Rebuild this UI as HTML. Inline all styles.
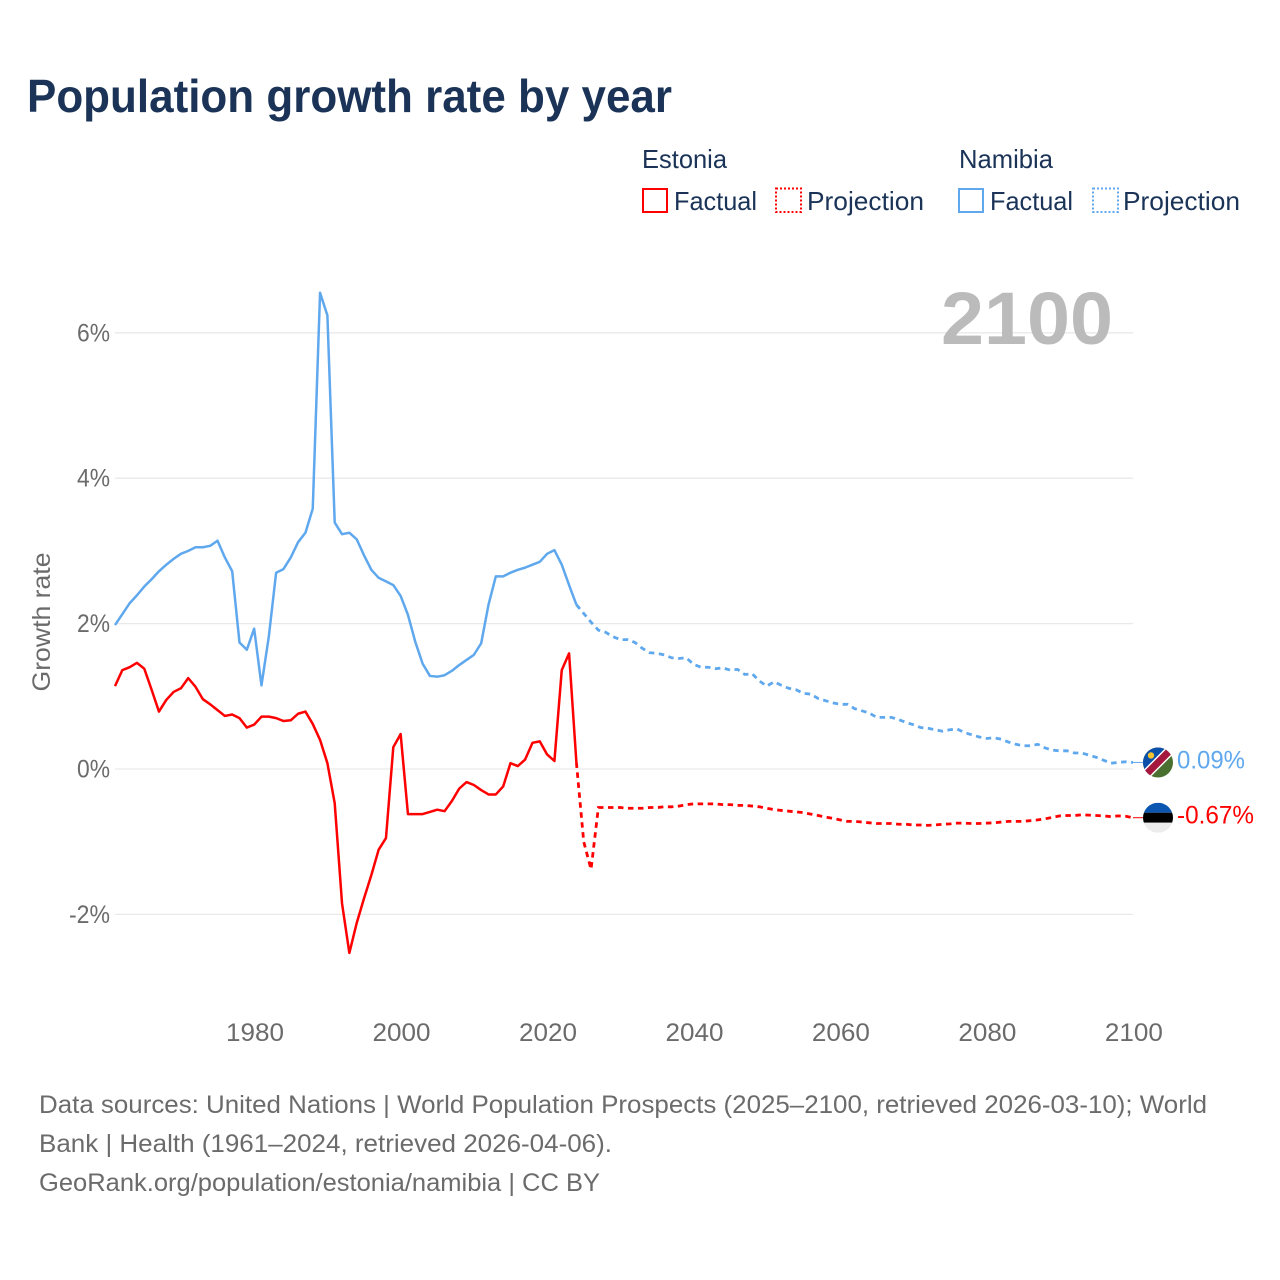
<!DOCTYPE html>
<html lang="en">
<head>
<meta charset="utf-8">
<title>Population growth rate by year</title>
<style>
html,body{margin:0;padding:0;background:#fff;}
svg{display:block;font-family:"Liberation Sans",sans-serif;}
</style>
</head>
<body>
<svg id="chart" xmlns="http://www.w3.org/2000/svg" width="1280" height="1280" viewBox="0 0 1280 1280">
<defs>
<clipPath id="flag-clip-n"><circle cx="0" cy="0" r="15"></circle></clipPath>
<clipPath id="flag-clip-e"><circle cx="0" cy="0" r="15"></circle></clipPath>
</defs>
<rect width="1280" height="1280" fill="#ffffff"></rect>
<text x="27" y="112" font-size="46" font-weight="700" fill="#1a3357" textLength="645" lengthAdjust="spacingAndGlyphs">Population growth rate by year</text>

<g font-size="26" fill="#1a3357">
<text x="642" y="168" textLength="85" lengthAdjust="spacingAndGlyphs">Estonia</text>
<text x="959" y="168" textLength="94" lengthAdjust="spacingAndGlyphs">Namibia</text>
<rect x="643" y="189" width="24" height="23" fill="none" stroke="#ff0000" stroke-width="2"></rect>
<text x="674" y="210" textLength="83" lengthAdjust="spacingAndGlyphs">Factual</text>
<rect x="776" y="188.5" width="25" height="23.5" fill="none" stroke="#ff0000" stroke-width="2" stroke-dasharray="2 2"></rect>
<text x="807" y="210" textLength="117" lengthAdjust="spacingAndGlyphs">Projection</text>
<rect x="959" y="189" width="24" height="23" fill="none" stroke="#5fa8ee" stroke-width="2"></rect>
<text x="990" y="210" textLength="83" lengthAdjust="spacingAndGlyphs">Factual</text>
<rect x="1093" y="188.5" width="25" height="23.5" fill="none" stroke="#5fa8ee" stroke-width="2" stroke-dasharray="2 2"></rect>
<text x="1123" y="210" textLength="117" lengthAdjust="spacingAndGlyphs">Projection</text>
</g>

<g id="grid"></g>
<g id="yticks"></g>
<g id="xticks"></g>
<text x="0" y="0" transform="translate(50,622) rotate(-90)" text-anchor="middle" font-size="25" fill="#6b6b6b" textLength="139" lengthAdjust="spacingAndGlyphs">Growth rate</text>
<text x="941" y="344" font-size="74" font-weight="700" fill="#bbbbbb" textLength="172" lengthAdjust="spacingAndGlyphs">2100</text>

<g id="series"></g>

<g id="flag-namibia">
<g clip-path="url(#flag-clip-n)">
<rect x="-15" y="-15" width="30" height="30" fill="#4a7030"></rect>
<polygon points="-15,-15 15,-15 -15,15" fill="#0a4fa8"></polygon>
<polygon points="-15,8 8,-15 15,-15 15,-8 -8,15 -15,15" fill="#ffffff"></polygon>
<polygon points="-15,10 10,-15 15,-15 15,-10 -10,15 -15,15" fill="#a5173d"></polygon>
<circle cx="-7" cy="-7" r="3.2" fill="#f4c430"></circle>
</g>
</g>
<g id="flag-estonia">
<g clip-path="url(#flag-clip-e)">
<rect x="-15" y="-15" width="30" height="10" fill="#0a56b0"></rect>
<rect x="-15" y="-5" width="30" height="10" fill="#000000"></rect>
<rect x="-15" y="5" width="30" height="10" fill="#ececec"></rect>
</g>
</g>
<g id="endlabels"></g>

<g font-size="25" fill="#6b6b6b">
<text x="39" y="1113" textLength="1168" lengthAdjust="spacingAndGlyphs">Data sources: United Nations | World Population Prospects (2025–2100, retrieved 2026-03-10); World</text>
<text x="39" y="1152" textLength="573" lengthAdjust="spacingAndGlyphs">Bank | Health (1961–2024, retrieved 2026-04-06).</text>
<text x="39" y="1191" textLength="561" lengthAdjust="spacingAndGlyphs">GeoRank.org/population/estonia/namibia | CC BY</text>
</g>
</svg>
<script>
var factualStartYear = 1961;
var projectionStartYear = 2024;
var namibiaFactual = [1.98,2.13,2.28,2.39,2.51,2.61,2.72,2.81,2.89,2.96,3.00,3.05,3.05,3.07,3.14,2.91,2.72,1.74,1.64,1.93,1.15,1.82,2.70,2.75,2.91,3.12,3.25,3.58,6.55,6.24,3.39,3.23,3.25,3.16,2.94,2.74,2.63,2.58,2.53,2.38,2.12,1.75,1.45,1.28,1.27,1.29,1.35,1.43,1.50,1.57,1.73,2.26,2.65,2.65,2.70,2.74,2.77,2.81,2.85,2.96,3.01,2.81,2.53,2.26];
var namibiaProjection = [2.26,2.14,2.02,1.91,1.88,1.82,1.78,1.78,1.74,1.66,1.60,1.59,1.57,1.53,1.52,1.53,1.44,1.40,1.40,1.38,1.39,1.36,1.37,1.30,1.31,1.21,1.14,1.20,1.15,1.11,1.09,1.04,1.03,0.97,0.94,0.91,0.89,0.89,0.83,0.80,0.77,0.71,0.71,0.71,0.68,0.64,0.61,0.57,0.56,0.54,0.52,0.54,0.55,0.50,0.47,0.44,0.42,0.43,0.41,0.37,0.34,0.32,0.32,0.34,0.29,0.26,0.25,0.25,0.22,0.22,0.19,0.16,0.12,0.08,0.09,0.10,0.09];
var estoniaFactual = [1.14,1.36,1.40,1.46,1.38,1.09,0.79,0.95,1.06,1.11,1.25,1.13,0.96,0.89,0.81,0.73,0.75,0.70,0.57,0.61,0.72,0.72,0.70,0.66,0.67,0.76,0.79,0.62,0.40,0.08,-0.47,-1.85,-2.53,-2.12,-1.78,-1.46,-1.11,-0.95,0.30,0.48,-0.62,-0.62,-0.62,-0.59,-0.56,-0.58,-0.44,-0.27,-0.18,-0.22,-0.29,-0.35,-0.35,-0.24,0.08,0.04,0.13,0.36,0.38,0.20,0.11,1.36,1.59,0.09];
var estoniaProjection = [0.09,-1.00,-1.38,-0.53,-0.53,-0.53,-0.53,-0.54,-0.54,-0.54,-0.53,-0.53,-0.52,-0.52,-0.51,-0.49,-0.48,-0.48,-0.48,-0.48,-0.49,-0.49,-0.50,-0.50,-0.51,-0.52,-0.54,-0.56,-0.57,-0.58,-0.59,-0.60,-0.62,-0.64,-0.66,-0.68,-0.70,-0.72,-0.72,-0.73,-0.74,-0.75,-0.75,-0.75,-0.76,-0.76,-0.77,-0.77,-0.775,-0.77,-0.76,-0.755,-0.745,-0.745,-0.75,-0.75,-0.745,-0.74,-0.73,-0.72,-0.72,-0.72,-0.71,-0.70,-0.685,-0.665,-0.645,-0.64,-0.64,-0.63,-0.635,-0.64,-0.645,-0.655,-0.645,-0.65,-0.67];
var yTickValues = [-2,0,2,4,6];
var yTickLabels = ["-2%","0%","2%","4%","6%"];
var xTickYears = [1980,2000,2020,2040,2060,2080,2100];
var xTickLabels = ["1980","2000","2020","2040","2060","2080","2100"];
var endValueNamibia = "0.09%";
var endValueEstonia = "-0.67%";

var NS = "http://www.w3.org/2000/svg";
function xScale(year){ return 115 + (year - 1961) * (1018 / 139); }
function yScale(v){ return 769 - v * 72.7; }
function make(tag, parent, attrs){
  var el = document.createElementNS(NS, tag);
  for (var k in attrs) el.setAttribute(k, attrs[k]);
  parent.appendChild(el);
  return el;
}
function pathFrom(values, startYear){
  var d = "";
  for (var i = 0; i < values.length; i++){
    d += (i ? "L" : "M") + xScale(startYear + i).toFixed(2) + " " + yScale(values[i]).toFixed(2);
  }
  return d;
}

var grid = document.getElementById("grid");
var yticks = document.getElementById("yticks");
yTickValues.forEach(function(v, i){
  var line = make("line", grid, {x1: xScale(1961), x2: xScale(2100), y1: yScale(v), y2: yScale(v), stroke: "#e9e9e9", "stroke-width": 1.3});
  
  
  var t = make("text", yticks, {x: 110, y: yScale(v) + 8.5, "text-anchor": "end", "font-size": 25, fill: "#6b6b6b", textLength: v < 0 ? 41 : 33, lengthAdjust: "spacingAndGlyphs"});
  t.textContent = yTickLabels[i];
  
  
});

var xticks = document.getElementById("xticks");
xTickYears.forEach(function(year, i){
  var t = make("text", xticks, {x: xScale(year) + 0.9, y: 1041, "text-anchor": "middle", "font-size": 25, fill: "#6b6b6b", textLength: 58, lengthAdjust: "spacingAndGlyphs"});
  t.textContent = xTickLabels[i];
  
  
});

var series = document.getElementById("series");
var nf = make("path", series, {d: pathFrom(namibiaFactual, factualStartYear), fill: "none", stroke: "#5fa8ee", "stroke-width": 2.5, "stroke-linejoin": "round"});


var np = make("path", series, {d: pathFrom(namibiaProjection, projectionStartYear), fill: "none", stroke: "#5fa8ee", "stroke-width": 2.8, "stroke-dasharray": "5.5 4.5"});


var ef = make("path", series, {d: pathFrom(estoniaFactual, factualStartYear), fill: "none", stroke: "#ff0000", "stroke-width": 2.5, "stroke-linejoin": "round"});


var ep = make("path", series, {d: pathFrom(estoniaProjection, projectionStartYear), fill: "none", stroke: "#ff0000", "stroke-width": 2.8, "stroke-dasharray": "5.5 4.5"});



var lastN = namibiaProjection[namibiaProjection.length - 1];
var lastE = estoniaProjection[estoniaProjection.length - 1];
var lastYear = projectionStartYear + namibiaProjection.length - 1;
var endX = xScale(lastYear);
var cn = make("line", series, {x1: endX, x2: endX + 10, y1: yScale(lastN), y2: yScale(lastN), stroke: "#5fa8ee", "stroke-width": 1});


var ce = make("line", series, {x1: endX, x2: endX + 10, y1: yScale(lastE), y2: yScale(lastE), stroke: "#ff0000", "stroke-width": 1});



document.getElementById("flag-namibia").setAttribute("transform", "translate(" + (endX + 25) + "," + yScale(lastN) + ")");
document.getElementById("flag-estonia").setAttribute("transform", "translate(" + (endX + 25) + "," + yScale(lastE) + ")");

var endlabels = document.getElementById("endlabels");
var ln = make("text", endlabels, {x: 1177, y: yScale(lastN) + 6, "font-size": 25, fill: "#5fa8ee", textLength: 68, lengthAdjust: "spacingAndGlyphs"});
ln.textContent = endValueNamibia;


var le = make("text", endlabels, {x: 1177, y: yScale(lastE) + 6, "font-size": 25, fill: "#ff0000", textLength: 77, lengthAdjust: "spacingAndGlyphs"});
le.textContent = endValueEstonia;


</script>
</body>
</html>
